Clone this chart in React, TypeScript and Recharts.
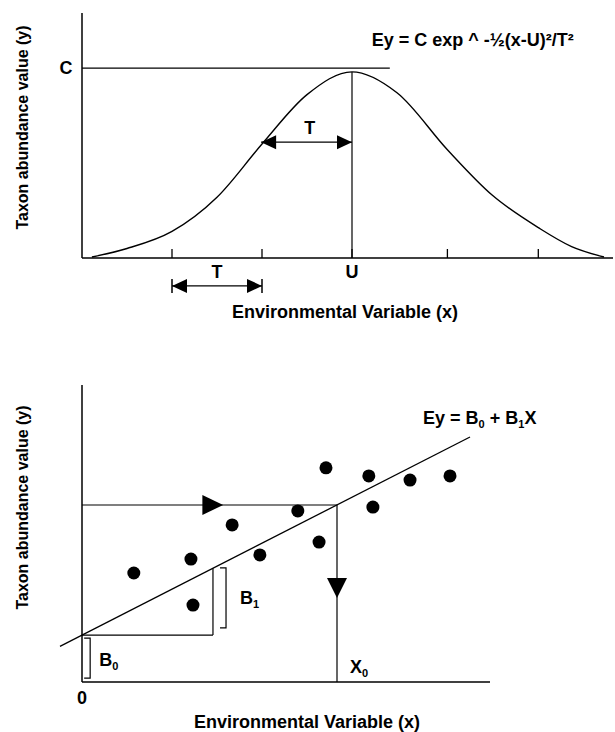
import React from 'react';
import {
  ComposedChart,
  ScatterChart,
  Line,
  Scatter,
  XAxis,
  YAxis,
  ReferenceLine,
  ReferenceDot,
  Label,
} from 'recharts';

const FONT = '"Liberation Sans", Arial, Helvetica, sans-serif';
const INK = '#000';

// ---------- shared texts ----------
const xTitle = 'Environmental Variable (x)';
const yTitle = 'Taxon abundance value (y)';

// ---------- top panel: Gaussian response (x in units of T, y in units of C) ----------
const curveX = [-2.89, -2.5, -2, -1.5, -1, -0.5, 0, 0.5, 1.06, 1.56, 2.07, 2.44, 2.8];
const curveY = [0.005, 0.05, 0.14, 0.32, 0.6, 0.86, 0.98, 0.87, 0.57, 0.33, 0.16, 0.06, 0.005];
const topXDomain: [number, number] = [-3, 2.9];
const topYDomain: [number, number] = [0, 1.29];
const topTicks = [-2, -1, 0, 1.06, 2.07];
const topTickLabels = ['', '', 'U', '', ''];
const cLevel = 1;
const cLabel = 'C';
const cLineEndX = 0.42;
const optimumU = 0;
const peakY = 0.98;
const tArrowFromX = -1.01;
const tArrowY = 0.61;
const tBelowFromX = -2;
const tBelowToX = -1;
const tBelowY = -0.147;
const topEquation = 'Ey = C exp ^ -\u00BD(x-U)\u00B2/T\u00B2';
const topEqPos = { x: 0.22, y: 1.116 };
const upperTPos = { x: -0.47, y: 0.653 };
const lowerTPos = { x: -1.5, y: -0.105 };
const tLabel = 'T';

// ---------- bottom panel: linear response ----------
const pointsX = [1.27, 2.67, 2.72, 3.68, 4.36, 5.29, 5.81, 5.98, 7.03, 7.13, 8.04, 9.02];
const pointsY = [3.67, 4.14, 2.59, 5.29, 4.28, 5.76, 4.71, 7.21, 6.94, 5.89, 6.8, 6.94];
const bottomXDomain: [number, number] = [0, 10];
const bottomYDomain: [number, number] = [0, 10];
const bottomTicks = [0];
const bottomTickLabels = ['0'];
const fitX = [-0.54, 9.51];
const fitY = [1.2, 8.25];
const interceptB0 = 1.58;
const riseX = 3.21;
const riseTopY = 3.83;
const projY = 5.96;
const projX0 = 6.25;
const rightHeadX = [2.95, 3.46];
const downHeadY = [3.5, 2.83];
const b1Bracket = { x: 3.53, from: 3.84, to: 1.82 };
const b0Bracket = { x: 0.2, from: 1.48, to: 0.13 };
const b1LabelPos = { x: 3.87, y: 2.63 };
const b0LabelPos = { x: 0.42, y: 0.54 };
const x0LabelPos = { x: 6.57, y: 0.3 };
const bottomEqPos = { x: 8.36, y: 8.69 };

const curveData = curveX.map((x, i) => ({ x, y: curveY[i] }));
const pointData = pointsX.map((x, i) => ({ x, y: pointsY[i] }));

const txt = { fontFamily: FONT, fontWeight: 700, fill: INK } as const;

function headPath(tipX: number, tipY: number, fromX: number, fromY: number, len: number, half: number) {
  const d = Math.hypot(tipX - fromX, tipY - fromY) || 1;
  const ux = (tipX - fromX) / d;
  const uy = (tipY - fromY) / d;
  const bx = tipX - ux * len;
  const by = tipY - uy * len;
  const nx = -uy * half;
  const ny = ux * half;
  return `M${tipX},${tipY}L${bx + nx},${by + ny}L${bx - nx},${by - ny}Z`;
}

const doubleArrow = (bars: boolean) => (p: any) => {
  const { x1, y1, x2, y2 } = p;
  return (
    <g>
      <line x1={x1} y1={y1} x2={x2} y2={y2} stroke={INK} strokeWidth={1.3} />
      <path d={headPath(x1, y1, x2, y2, 15, 7)} fill={INK} />
      <path d={headPath(x2, y2, x1, y1, 15, 7)} fill={INK} />
      {bars && (
        <g>
          <line x1={x1} y1={y1 - 7} x2={x1} y2={y1 + 7} stroke={INK} strokeWidth={1.5} />
          <line x1={x2} y1={y2 - 7} x2={x2} y2={y2 + 7} stroke={INK} strokeWidth={1.5} />
        </g>
      )}
    </g>
  );
};

const arrowhead = (p: any) => {
  const { x1, y1, x2, y2 } = p;
  const len = Math.hypot(x2 - x1, y2 - y1);
  return <path d={headPath(x2, y2, x1, y1, len, 10)} fill={INK} />;
};

const bracket = (p: any) => {
  const { x1, y1, x2, y2 } = p;
  return (
    <path
      d={`M${x1 - 6},${y1}H${x1}V${y2}H${x2 - 6}`}
      fill="none"
      stroke={INK}
      strokeWidth={1.2}
    />
  );
};

const textMark = (content: React.ReactNode, anchor: 'start' | 'middle' | 'end' = 'start', size = 18) =>
  (p: any) => (
    <text x={p.cx} y={p.cy} textAnchor={anchor} fontSize={size} style={txt}>
      {content}
    </text>
  );

const sub = (c: string) => (
  <tspan fontSize={11} dy={4}>
    {c}
  </tspan>
);

const TopTick = (p: any) => {
  const { x, y, payload } = p;
  const i = topTicks.indexOf(payload.value);
  const label = i >= 0 ? topTickLabels[i] : '';
  return (
    <g>
      <line x1={x} y1={y} x2={x} y2={y - 9} stroke={INK} strokeWidth={1.3} />
      {label && (
        <text x={x} y={y + 20} textAnchor="middle" fontSize={18} style={txt}>
          {label}
        </text>
      )}
    </g>
  );
};

const BottomTick = (p: any) => {
  const { x, y, payload } = p;
  const i = bottomTicks.indexOf(payload.value);
  const label = i >= 0 ? bottomTickLabels[i] : '';
  return (
    <text x={x} y={y + 22} textAnchor="middle" fontSize={18} style={txt}>
      {label}
    </text>
  );
};

const CTick = (p: any) => {
  const { x, y } = p;
  return (
    <text x={x - 16} y={y + 6} textAnchor="middle" fontSize={18} style={txt}>
      {cLabel}
    </text>
  );
};

const yTitleContent = (shift: number) => (lp: any) => {
  const vb = lp.viewBox || {};
  const cx = vb.x + (vb.width || 0) - 60;
  const cy = vb.y + vb.height / 2 + shift;
  return (
    <text
      x={cx}
      y={cy}
      textAnchor="middle"
      dominantBaseline="central"
      fontSize={16}
      style={txt}
      transform={`rotate(-90, ${cx}, ${cy})`}
    >
      {yTitle}
    </text>
  );
};

const xTitleContent = (dx: number, dy: number) => (lp: any) => {
  const vb = lp.viewBox || {};
  return (
    <text x={vb.x + dx} y={vb.y + dy} textAnchor="start" fontSize={18} style={txt}>
      {xTitle}
    </text>
  );
};

const axisLine = { stroke: INK, strokeWidth: 1.5 };

function TopPanel() {
  return (
    <ComposedChart
      width={615}
      height={340}
      data={curveData}
      margin={{ top: 13, right: 2, bottom: 81, left: 81 }}
    >
      <XAxis
        type="number"
        dataKey="x"
        domain={topXDomain}
        allowDataOverflow
        ticks={topTicks}
        interval={0}
        height={1}
        tickLine={false}
        tickSize={0}
        tickMargin={0}
        axisLine={axisLine}
        tick={<TopTick />}
      >
        <Label content={xTitleContent(150, 60)} />
      </XAxis>
      <YAxis
        type="number"
        dataKey="y"
        domain={topYDomain}
        allowDataOverflow
        ticks={[cLevel]}
        interval={0}
        width={1}
        tickLine={false}
        tickSize={0}
        tickMargin={0}
        axisLine={axisLine}
        tick={<CTick />}
      >
        <Label content={yTitleContent(-8)} />
      </YAxis>
      <ReferenceLine
        segment={[{ x: topXDomain[0], y: cLevel }, { x: cLineEndX, y: cLevel }]}
        stroke={INK}
        strokeWidth={1.2}
        ifOverflow="visible"
      />
      <ReferenceLine
        segment={[{ x: optimumU, y: 0 }, { x: optimumU, y: peakY }]}
        stroke={INK}
        strokeWidth={1.2}
        ifOverflow="visible"
      />
      <ReferenceLine
        segment={[{ x: tArrowFromX, y: tArrowY }, { x: optimumU, y: tArrowY }]}
        ifOverflow="visible"
        shape={doubleArrow(false)}
      />
      <ReferenceLine
        segment={[{ x: tBelowFromX, y: tBelowY }, { x: tBelowToX, y: tBelowY }]}
        ifOverflow="visible"
        shape={doubleArrow(true)}
      />
      <Line
        type="monotone"
        dataKey="y"
        stroke={INK}
        strokeWidth={1.4}
        dot={false}
        activeDot={false}
        isAnimationActive={false}
      />
      <ReferenceDot
        x={topEqPos.x}
        y={topEqPos.y}
        r={0}
        ifOverflow="visible"
        shape={textMark(topEquation, 'start', 18)}
      />
      <ReferenceDot
        x={upperTPos.x}
        y={upperTPos.y}
        r={0}
        ifOverflow="visible"
        shape={textMark(tLabel, 'middle', 18)}
      />
      <ReferenceDot
        x={lowerTPos.x}
        y={lowerTPos.y}
        r={0}
        ifOverflow="visible"
        shape={textMark(tLabel, 'middle', 18)}
      />
    </ComposedChart>
  );
}

function BottomPanel() {
  return (
    <ScatterChart
      width={615}
      height={392}
      margin={{ top: 45, right: 125, bottom: 49, left: 81 }}
    >
      <XAxis
        type="number"
        dataKey="x"
        domain={bottomXDomain}
        allowDataOverflow
        ticks={bottomTicks}
        interval={0}
        height={1}
        tickLine={false}
        tickSize={0}
        tickMargin={0}
        axisLine={axisLine}
        tick={<BottomTick />}
      >
        <Label content={xTitleContent(112, 46)} />
      </XAxis>
      <YAxis
        type="number"
        dataKey="y"
        domain={bottomYDomain}
        allowDataOverflow
        width={1}
        tick={false}
        tickLine={false}
        axisLine={axisLine}
      >
        <Label content={yTitleContent(-26)} />
      </YAxis>
      <ReferenceLine
        segment={[{ x: fitX[0], y: fitY[0] }, { x: fitX[1], y: fitY[1] }]}
        stroke={INK}
        strokeWidth={1.3}
        ifOverflow="visible"
      />
      <ReferenceLine
        segment={[{ x: 0, y: interceptB0 }, { x: riseX, y: interceptB0 }]}
        stroke={INK}
        strokeWidth={1.2}
        ifOverflow="visible"
      />
      <ReferenceLine
        segment={[{ x: riseX, y: interceptB0 }, { x: riseX, y: riseTopY }]}
        stroke={INK}
        strokeWidth={1.2}
        ifOverflow="visible"
      />
      <ReferenceLine
        segment={[{ x: 0, y: projY }, { x: projX0, y: projY }]}
        stroke={INK}
        strokeWidth={1.2}
        ifOverflow="visible"
      />
      <ReferenceLine
        segment={[{ x: projX0, y: projY }, { x: projX0, y: 0 }]}
        stroke={INK}
        strokeWidth={1.2}
        ifOverflow="visible"
      />
      <ReferenceLine
        segment={[{ x: rightHeadX[0], y: projY }, { x: rightHeadX[1], y: projY }]}
        ifOverflow="visible"
        shape={arrowhead}
      />
      <ReferenceLine
        segment={[{ x: projX0, y: downHeadY[0] }, { x: projX0, y: downHeadY[1] }]}
        ifOverflow="visible"
        shape={arrowhead}
      />
      <ReferenceLine
        segment={[{ x: b1Bracket.x, y: b1Bracket.from }, { x: b1Bracket.x, y: b1Bracket.to }]}
        ifOverflow="visible"
        shape={bracket}
      />
      <ReferenceLine
        segment={[{ x: b0Bracket.x, y: b0Bracket.from }, { x: b0Bracket.x, y: b0Bracket.to }]}
        ifOverflow="visible"
        shape={bracket}
      />
      <Scatter
        data={pointData}
        isAnimationActive={false}
        shape={(p: any) => <circle cx={p.cx} cy={p.cy} r={6.5} fill={INK} />}
      />
      <ReferenceDot
        x={bottomEqPos.x}
        y={bottomEqPos.y}
        r={0}
        ifOverflow="visible"
        shape={textMark(
          <>
            <tspan>Ey = B</tspan>
            {sub('0')}
            <tspan dy={-4}> + B</tspan>
            {sub('1')}
            <tspan dy={-4}>X</tspan>
          </>,
          'start',
          18
        )}
      />
      <ReferenceDot
        x={b1LabelPos.x}
        y={b1LabelPos.y}
        r={0}
        ifOverflow="visible"
        shape={textMark(
          <>
            <tspan>B</tspan>
            {sub('1')}
          </>,
          'start',
          18
        )}
      />
      <ReferenceDot
        x={b0LabelPos.x}
        y={b0LabelPos.y}
        r={0}
        ifOverflow="visible"
        shape={textMark(
          <>
            <tspan>B</tspan>
            {sub('0')}
          </>,
          'start',
          18
        )}
      />
      <ReferenceDot
        x={x0LabelPos.x}
        y={x0LabelPos.y}
        r={0}
        ifOverflow="visible"
        shape={textMark(
          <>
            <tspan>X</tspan>
            {sub('0')}
          </>,
          'start',
          18
        )}
      />
    </ScatterChart>
  );
}

export default function App() {
  return (
    <div
      style={{
        position: 'absolute',
        left: 0,
        top: 0,
        width: 615,
        height: 732,
        background: '#fff',
      }}
    >
      <div style={{ position: 'absolute', left: 0, top: 0 }}>
        <TopPanel />
      </div>
      <div style={{ position: 'absolute', left: 0, top: 340 }}>
        <BottomPanel />
      </div>
    </div>
  );
}
